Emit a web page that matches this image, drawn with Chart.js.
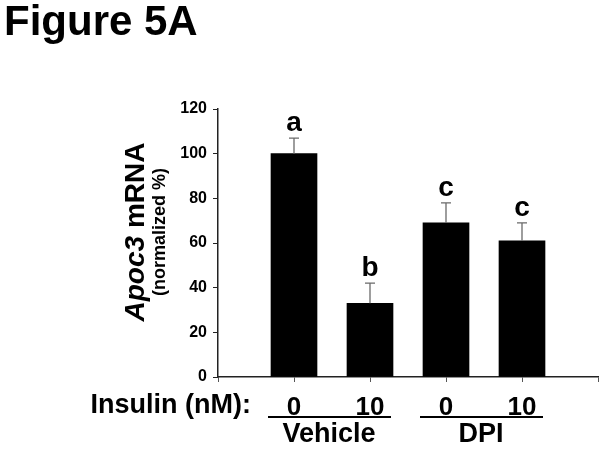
<!DOCTYPE html>
<html>
<head>
<meta charset="utf-8">
<script src="https://cdn.jsdelivr.net/npm/chart.js@4"></script>
<style>
  html, body { margin: 0; padding: 0; background: #fff; }
  #wrap { width: 608px; height: 450px; }
</style>
</head>
<body>
<div id="wrap"><canvas id="chart" width="608" height="450"></canvas></div>
<script>
// Figure data
const insulinLabels = ['0', '10', '0', '10'];
const treatmentGroups = ['Vehicle', 'DPI'];
const mrnaValues = [100, 33, 69, 61];
const errorValues = [7, 9, 9, 8];
const letters = ['a', 'b', 'c', 'c'];
const yTickMin = 0;
const yTickMax = 120;
const yTickStep = 20;

const FONT = '"Liberation Sans", Arial, Helvetica, sans-serif';

// empty slot on each side so the axis runs past the outer bars
const axisLabels = ['', ...insulinLabels, ''];
const barData = [null, ...mrnaValues, null];

// error bars, significance letters and the extra text around the plot
const annotations = {
  id: 'annotations',
  afterDatasetsDraw(chart) {
    const ctx = chart.ctx;
    const y = chart.scales.y;
    const meta = chart.getDatasetMeta(0);

    ctx.save();
    mrnaValues.forEach((v, i) => {
      const bar = meta.data[i + 1];
      const top = y.getPixelForValue(v);
      const cap = y.getPixelForValue(v + errorValues[i]);
      ctx.strokeStyle = '#6a6a6a';
      ctx.lineWidth = 1.3;
      ctx.beginPath();
      ctx.moveTo(bar.x, top);
      ctx.lineTo(bar.x, cap);
      ctx.moveTo(bar.x - 5, cap);
      ctx.lineTo(bar.x + 5, cap);
      ctx.stroke();

      ctx.fillStyle = '#000';
      ctx.font = 'bold 28px ' + FONT;
      ctx.textAlign = 'center';
      ctx.textBaseline = 'alphabetic';
      ctx.fillText(letters[i], bar.x, cap - 7);
    });
    ctx.restore();
  },
  afterDraw(chart) {
    const ctx = chart.ctx;
    const x = chart.scales.x;
    ctx.save();
    ctx.fillStyle = '#000';
    ctx.strokeStyle = '#000';

    // panel title
    ctx.font = 'bold 42px ' + FONT;
    ctx.textAlign = 'left';
    ctx.textBaseline = 'alphabetic';
    ctx.fillText('Figure 5A', 4, 35);

    // row caption
    ctx.font = 'bold 27px ' + FONT;
    ctx.textAlign = 'right';
    ctx.fillText('Insulin (nM):', 251, 413);

    // group lines and names
    treatmentGroups.forEach((g, gi) => {
      const x0 = x.getPixelForValue(1 + gi * 2);
      const x1 = x.getPixelForValue(2 + gi * 2);
      ctx.lineWidth = 2;
      ctx.beginPath();
      ctx.moveTo(x0 - 26, 417);
      ctx.lineTo(x1 + 21, 417);
      ctx.stroke();
      ctx.textAlign = 'center';
      ctx.fillText(g, (x0 + x1) / 2 - 3, 442);
    });

    // y axis title: italic gene name + plain word, then units underneath
    ctx.translate(136, 232);
    ctx.rotate(-Math.PI / 2);
    ctx.textBaseline = 'middle';
    const gene = 'Apoc3';
    const rest = ' mRNA';
    ctx.font = 'italic bold 28px ' + FONT;
    const wGene = ctx.measureText(gene).width;
    ctx.font = 'bold 28px ' + FONT;
    const wRest = ctx.measureText(rest).width;
    const start = -(wGene + wRest) / 2;
    ctx.textAlign = 'left';
    ctx.font = 'italic bold 28px ' + FONT;
    ctx.fillText(gene, start, 0);
    ctx.font = 'bold 28px ' + FONT;
    ctx.fillText(rest, start + wGene, 0);
    ctx.font = 'bold 18px ' + FONT;
    ctx.textAlign = 'center';
    ctx.fillText('(normalized %)', 0, 24);
    ctx.restore();
  }
};

new Chart(document.getElementById('chart'), {
  type: 'bar',
  data: {
    labels: axisLabels,
    datasets: [{
      data: barData,
      backgroundColor: '#000',
      borderWidth: 0,
      barThickness: 46
    }]
  },
  options: {
    responsive: false,
    animation: false,
    devicePixelRatio: 1,
    layout: { padding: { left: 118, top: 109, right: 7, bottom: 0 } },
    plugins: {
      legend: { display: false },
      tooltip: { enabled: false }
    },
    scales: {
      x: {
        type: 'category',
        offset: false,
        afterFit(scale) { scale.height = 73; },
        grid: {
          offset: false,
          drawOnChartArea: false,
          drawTicks: true,
          tickLength: 5,
          color: '#555',
          lineWidth: 1
        },
        border: { color: '#222', width: 1.5 },
        ticks: {
          color: '#000',
          padding: 10,
          maxRotation: 0,
          autoSkip: false,
          font: { family: FONT, size: 26, weight: 'bold' }
        }
      },
      y: {
        min: yTickMin,
        max: yTickMax,
        afterFit(scale) { scale.width = 100; },
        grid: {
          drawOnChartArea: false,
          drawTicks: true,
          tickLength: 5,
          color: '#222',
          lineWidth: 1
        },
        border: { color: '#222', width: 1.5 },
        ticks: {
          stepSize: yTickStep,
          color: '#000',
          padding: 6,
          font: { family: FONT, size: 16, weight: 'bold' }
        }
      }
    }
  },
  plugins: [annotations]
});
</script>
</body>
</html>
